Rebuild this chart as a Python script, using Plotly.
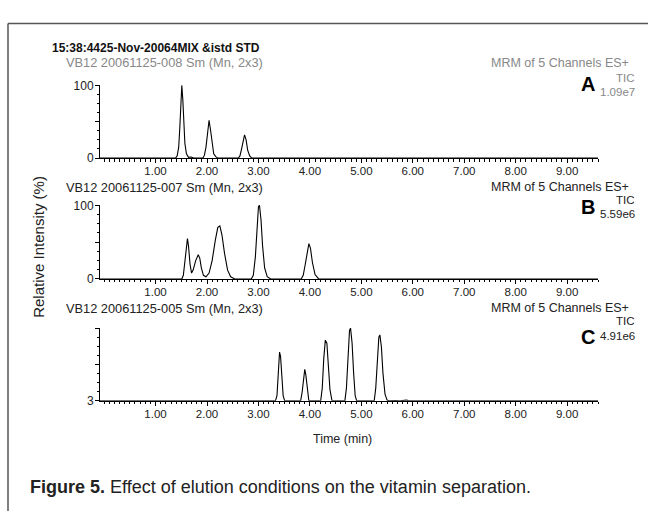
import plotly.graph_objects as go

W, H = 648, 518

# ---- data ----
time_a = [-0.08, 1.39, 1.42, 1.45, 1.47, 1.49, 1.51, 1.53, 1.55, 1.57, 1.60, 1.64, 1.69, 1.74,
          1.92, 1.95, 1.98, 2.01, 2.04, 2.07, 2.10, 2.13, 2.17, 2.21,
          2.61, 2.64, 2.67, 2.70, 2.73, 2.76, 2.79, 2.83, 2.87, 9.6]
int_a = [0, 0, 3, 15, 40, 75, 100, 80, 45, 20, 6, 1, 1.5, 0,
         0, 4, 15, 35, 52, 38, 17, 6, 2, 0,
         0, 3, 12, 25, 32, 25, 11, 3, 0, 0]

time_b = [-0.08, 1.51, 1.54, 1.57, 1.60, 1.62, 1.64, 1.67, 1.70, 1.73, 1.78, 1.83, 1.86, 1.89, 1.93,
          1.98, 2.04, 2.10, 2.16, 2.21, 2.25, 2.29, 2.34, 2.40, 2.46, 2.54,
          2.86, 2.90, 2.94, 2.97, 3.00, 3.02, 3.05, 3.08, 3.12, 3.17, 3.24,
          3.83, 3.87, 3.91, 3.95, 3.98, 4.01, 4.05, 4.10, 4.17, 9.6]
int_b = [0, 0, 5, 25, 50, 55, 45, 20, 8, 12, 25, 33, 28, 15, 5,
         3, 8, 25, 52, 70, 72, 60, 35, 12, 3, 0,
         0, 5, 30, 70, 98, 100, 80, 45, 15, 3, 0,
         0, 5, 20, 40, 48, 42, 22, 6, 0, 0]

time_c = [-0.08, 3.33, 3.36, 3.39, 3.41, 3.43, 3.45, 3.48, 3.51,
          3.82, 3.85, 3.88, 3.90, 3.92, 3.95, 3.98,
          4.21, 4.24, 4.27, 4.30, 4.33, 4.36, 4.39, 4.43,
          4.68, 4.71, 4.74, 4.77, 4.79, 4.82, 4.85, 4.88, 4.91,
          5.25, 5.28, 5.31, 5.34, 5.36, 5.39, 5.42, 5.46, 5.50, 5.54,
          5.65, 5.75, 5.88, 5.92, 9.6]
int_c = [3, 3, 10, 40, 68, 62, 35, 10, 3,
         3, 15, 40, 45, 38, 15, 3,
         3, 20, 60, 84, 80, 50, 18, 3,
         3, 20, 65, 97, 100, 80, 40, 10, 3,
         3, 20, 60, 88, 91, 75, 40, 12, 4, 3,
         3.5, 3, 4, 3, 3]

x_ticks = [1, 2, 3, 4, 5, 6, 7, 8, 9]
x_tick_labels = ["1.00", "2.00", "3.00", "4.00", "5.00", "6.00", "7.00", "8.00", "9.00"]

sample_labels = ["VB12 20061125-008 Sm (Mn, 2x3)",
                 "VB12 20061125-007 Sm (Mn, 2x3)",
                 "VB12 20061125-005 Sm (Mn, 2x3)"]
panel_letters = ["A", "B", "C"]
panel_scales = ["1.09e7", "5.59e6", "4.91e6"]

# ---- layout helpers ----
def px(x):
    return x / W

def py(y):
    return 1 - y / H

x_dom = [px(100), px(598)]
panels = [(81, 156), (204, 280), (330, 405)]  # (top, bottom) pixel positions

SANS = "Liberation Sans, Arial, sans-serif"
XTICK_FONT = dict(family=SANS, size=11.5, color="#222")
YTICK_FONT = dict(family=SANS, size=12, color="#222")

fig = go.Figure()
series = [(time_a, int_a), (time_b, int_b), (time_c, int_c)]
for i, (t, v) in enumerate(series):
    sfx = "" if i == 0 else str(i + 1)
    fig.add_trace(go.Scatter(x=t, y=v, mode="lines", line=dict(color="black", width=1.1),
                             xaxis="x" + sfx, yaxis="y" + sfx, showlegend=False,
                             hoverinfo="skip"))

layout = dict(width=W, height=H, margin=dict(l=0, r=0, t=0, b=0),
              paper_bgcolor="white", plot_bgcolor="white", showlegend=False)

for i, (top, bot) in enumerate(panels):
    sfx = "" if i == 0 else str(i + 1)
    layout["xaxis" + sfx] = dict(
        domain=x_dom, anchor="y" + sfx, range=[-0.08, 9.6],
        tickmode="array", tickvals=x_ticks, ticktext=x_tick_labels,
        ticks="outside", ticklen=4, tickcolor="black", tickwidth=1,
        ticklabelstandoff=-2,
        showline=True, linecolor="black", linewidth=1, showgrid=False, zeroline=False,
        tickfont=XTICK_FONT,
        minor=dict(tickmode="linear", tick0=0, dtick=0.1, ticks="outside", ticklen=2.5,
                   tickcolor="black", tickwidth=1, showgrid=False))
    if i < 2:
        yr = [0, 100.6]
        tv = [0, 50, 100]
        tt = ["0", "", "100"]
        mt0, mdt = 0, 12.5
    else:
        yr = [3, 100.6]
        tv = [3, 51.5, 100]
        tt = ["3", "", ""]
        mt0, mdt = 3, 12.125
    layout["yaxis" + sfx] = dict(
        domain=[py(bot), py(top)], anchor="x" + sfx, range=yr,
        tickmode="array", tickvals=tv, ticktext=tt,
        ticks="outside", ticklen=4, tickcolor="black", tickwidth=1,
        ticklabelstandoff=-1,
        showline=True, linecolor="black", linewidth=1, showgrid=False, zeroline=False,
        tickfont=YTICK_FONT,
        minor=dict(tickmode="linear", tick0=mt0, dtick=mdt, ticks="outside", ticklen=2.5,
                   tickcolor="black", tickwidth=1, showgrid=False))

fig.update_layout(**layout)

ann = []

def text(x, y, s, size=12, color="#222", xanchor="left", bold=False, family=None, textangle=0):
    ann.append(dict(x=px(x), y=py(y), xref="paper", yref="paper", text=("<b>%s</b>" % s) if bold else s,
                    showarrow=False, xanchor=xanchor, yanchor="middle", textangle=textangle,
                    font=dict(family=family or SANS, size=size, color=color)))

text(50, 43, "15:38:4425-Nov-20064MIX &istd STD", size=12, color="#111", bold=True)

label_y = [58, 186, 310]
tic_y = [74, 199, 323]
scale_y = [88, 213, 338]
letter_y = [80, 206, 340]
colors = ["#888", "#222", "#222"]
for i in range(3):
    text(64, label_y[i], sample_labels[i], size=12.8, color=colors[i])
    text(631, label_y[i], "MRM of 5 Channels ES+", size=12.5, color=colors[i], xanchor="right")
    text(637, tic_y[i], "TIC", size=11.5, color=colors[i], xanchor="right")
    text(637, scale_y[i], panel_scales[i], size=11.5, color=colors[i], xanchor="right")
    text(597, letter_y[i], panel_letters[i], size=20, color="black", xanchor="right", bold=True)

text(39, 247, "Relative Intensity (%)", size=15, color="#222", xanchor="center", textangle=-90)
text(342, 444, "Time (min)", size=12.5, color="#222", xanchor="center")

ann.append(dict(x=px(28), y=py(493), xref="paper", yref="paper", showarrow=False,
                xanchor="left", yanchor="middle",
                text="<b>Figure 5.</b> Effect of elution conditions on the vitamin separation.",
                font=dict(family=SANS, size=18, color="#222")))

fig.update_layout(annotations=ann)

# frame lines
fig.update_layout(shapes=[
    dict(type="line", xref="paper", yref="paper", x0=px(8), x1=1, y0=py(18), y1=py(18),
         line=dict(color="#555", width=1.5)),
    dict(type="line", xref="paper", yref="paper", x0=px(8), x1=px(8), y0=py(18), y1=0,
         line=dict(color="#555", width=1.5)),
])

fig.write_html("out.html")
